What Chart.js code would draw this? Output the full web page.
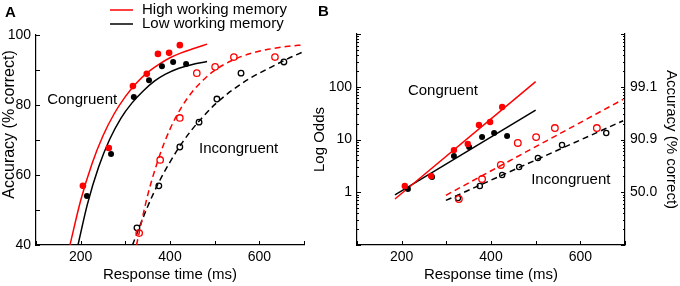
<!DOCTYPE html>
<html>
<head>
<meta charset="utf-8">
<script src="https://cdn.jsdelivr.net/npm/chart.js@4.4.1/dist/chart.umd.min.js"></script>
<style>
  html, body { margin: 0; padding: 0; background: #fff; }
  #wrap { position: relative; width: 680px; height: 286px; overflow: hidden; }
  #wrapA { position: absolute; left: 0; top: 0; width: 340px; height: 286px; }
  #wrapB { position: absolute; left: 300px; top: 0; width: 380px; height: 286px; }
  canvas { display: block; }
</style>
</head>
<body>
<div id="wrap">
  <div id="wrapA"><canvas id="chartA" width="340" height="286"></canvas></div>
  <div id="wrapB"><canvas id="chartB" width="380" height="286"></canvas></div>
</div>
<script>
// ---------------- DATA ----------------
// Series names
const seriesHigh = 'High working memory';
const seriesLow = 'Low working memory';
const conditionLabels = ['Congruent', 'Incongruent'];

// Panel A: accuracy (% correct) vs response time (ms) – observed points
const aCongHighRT  = [205, 263, 317, 348, 373, 398, 422];
const aCongHighAcc = [56.9, 67.7, 85.4, 88.9, 94.6, 94.9, 97.1];
const aCongLowRT   = [214, 268, 319, 353, 382, 407, 436];
const aCongLowAcc  = [54.0, 66.0, 82.3, 87.1, 91.1, 92.3, 91.7];
const aIncHighRT   = [331, 378, 422, 460, 501, 543, 635];
const aIncHighAcc  = [43.4, 64.3, 76.3, 89.1, 90.9, 93.7, 93.7];
const aIncLowRT    = [326, 375, 422, 465, 505, 559, 655];
const aIncLowAcc   = [44.9, 56.9, 68.0, 75.1, 81.7, 89.1, 92.3];

// Panel A: fitted curves
const aFitCongHighRT  = [176, 200, 225, 250, 275, 300, 325, 350, 375, 400, 425, 455, 483];
const aFitCongHighAcc = [40, 52.7, 63.1, 71.2, 77.5, 82.4, 86.3, 89.3, 91.6, 93.5, 94.9, 96.2, 97.4];
const aFitCongLowRT   = [194, 215, 240, 265, 290, 315, 340, 365, 390, 420, 450, 483];
const aFitCongLowAcc  = [40, 51.6, 62.2, 70.2, 76.2, 80.6, 84.0, 86.8, 88.8, 90.5, 91.6, 92.4];
const aFitIncHighRT   = [325, 350, 375, 400, 425, 450, 475, 500, 540, 580, 620, 660, 700];
const aFitIncHighAcc  = [40, 54.2, 64.9, 73.1, 79.2, 83.8, 87.2, 89.9, 92.8, 94.7, 95.9, 96.7, 97.2];
const aFitIncLowRT    = [316, 350, 375, 400, 425, 450, 475, 500, 540, 580, 620, 660, 700];
const aFitIncLowAcc   = [40, 51.0, 57.9, 63.7, 68.8, 73.1, 76.8, 80.1, 84.3, 87.7, 90.4, 93.0, 95.3];

// Panel B: log odds vs response time (ms) – observed points
const bCongHighRT   = [207, 266, 317, 348, 373, 398, 425];
const bCongHighOdds = [1.31, 2.03, 6.3, 8.2, 18.8, 21.5, 41.3];
const bCongLowRT    = [214, 268, 317, 351, 380, 407, 436];
const bCongLowOdds  = [1.15, 1.95, 4.87, 7.2, 11.1, 13.3, 11.6];
const bIncHighRT    = [328, 380, 422, 460, 501, 543, 637];
const bIncHighOdds  = [0.745, 1.78, 3.29, 8.6, 11.1, 16.5, 16.5];
const bIncLowRT     = [326, 375, 425, 463, 505, 559, 658];
const bIncLowOdds   = [0.78, 1.31, 2.12, 3.01, 4.46, 7.87, 13.3];

// Panel B: fitted lines (end points)
const bFitCongHighRT   = [185, 500];
const bFitCongHighOdds = [0.745, 125];
const bFitCongLowRT    = [185, 500];
const bFitCongLowOdds  = [0.89, 36.2];
const bFitIncHighRT    = [299, 696];
const bFitIncHighOdds  = [0.875, 57.8];
const bFitIncLowRT     = [299, 696];
const bFitIncLowOdds   = [0.70, 22.7];

// Tick labels
const xTickLabels = [200, 400, 600];
const aYTickLabels = [40, 60, 80, 100];
const bLeftTickValues = [1, 10, 100];
const bLeftTickLabels = ['1', '10', '100'];
const bRightTickLabels = ['50.0', '90.9', '99.1'];

// ---------------- HELPERS ----------------
const RED = '#ff0000';
const BLACK = '#000000';
const FONT = '"Liberation Sans", Arial, Helvetica, sans-serif';
const zip = (xs, ys) => xs.map((x, i) => ({ x, y: ys[i] }));

function pointsDS(label, xs, ys, color, open, r) {
  return {
    label, data: zip(xs, ys), showLine: false,
    pointRadius: r, pointHoverRadius: r,
    pointBackgroundColor: open ? 'rgba(255,255,255,0)' : color,
    pointBorderColor: color, pointBorderWidth: open ? 1.3 : 0,
    backgroundColor: color, borderColor: color
  };
}
function lineDS(label, xs, ys, color, dashed, smooth) {
  return {
    label, data: zip(xs, ys), showLine: true, pointRadius: 0, pointHoverRadius: 0,
    borderColor: color, backgroundColor: color, borderWidth: 1.5,
    borderDash: dashed ? [6, 4] : [], tension: smooth ? 0.4 : 0,
    cubicInterpolationMode: smooth ? 'monotone' : 'default', fill: false
  };
}

// inward tick marks, drawn through the chart's own scales
const inwardTicks = {
  id: 'inwardTicks',
  afterDatasetsDraw(chart) {
    const ctx = chart.ctx;
    ctx.save();
    ctx.strokeStyle = '#000';
    ctx.lineWidth = 1;
    Object.values(chart.scales).forEach(scale => {
      const isLog = scale.type === 'logarithmic';
      scale.ticks.forEach(t => {
        const major = !isLog || Math.abs(Math.log10(t.value) - Math.round(Math.log10(t.value))) < 1e-9;
        const len = major ? 4 : 2;
        const p = Math.round(scale.getPixelForValue(t.value)) + 0.5;
        ctx.beginPath();
        if (scale.axis === 'x') {
          ctx.moveTo(p, scale.top); ctx.lineTo(p, scale.top - len);
        } else if (scale.position === 'left') {
          ctx.moveTo(scale.right, p); ctx.lineTo(scale.right + len, p);
        } else {
          ctx.moveTo(scale.left, p); ctx.lineTo(scale.left - len, p);
        }
        ctx.stroke();
      });
    });
    ctx.restore();
  }
};

// text decorations: panel letter, in-plot labels, legend
const decor = {
  id: 'decor',
  afterDraw(chart, args, opts) {
    const ctx = chart.ctx;
    ctx.save();
    ctx.fillStyle = '#000';
    ctx.textBaseline = 'middle';
    ctx.textAlign = 'left';
    if (opts.letter) {
      ctx.font = 'bold 15px ' + FONT;
      ctx.fillText(opts.letter.text, opts.letter.x, opts.letter.y);
    }
    ctx.font = '15px ' + FONT;
    (opts.notes || []).forEach(n => {
      const x = chart.scales.x.getPixelForValue(n.x);
      const y = chart.scales.y.getPixelForValue(n.y);
      ctx.fillText(n.text, x, y);
    });
    if (opts.legend) {
      const L = opts.legend;
      L.items.forEach((it, i) => {
        const y = L.y + i * L.rowGap;
        ctx.strokeStyle = it.color;
        ctx.lineWidth = 1.5;
        ctx.beginPath();
        ctx.moveTo(L.x, y); ctx.lineTo(L.x + L.lineLen, y);
        ctx.stroke();
        ctx.fillStyle = '#000';
        ctx.fillText(it.text, L.x + L.lineLen + L.gap, y);
      });
    }
    ctx.restore();
  }
};

const tickFont = { family: FONT, size: 14 };

// ---------------- PANEL A ----------------
new Chart(document.getElementById('chartA'), {
  type: 'scatter',
  data: {
    datasets: [
      pointsDS(seriesHigh + ' congruent', aCongHighRT, aCongHighAcc, RED, false, 3.3),
      pointsDS(seriesLow + ' congruent', aCongLowRT, aCongLowAcc, BLACK, false, 3),
      pointsDS(seriesHigh + ' incongruent', aIncHighRT, aIncHighAcc, RED, true, 3.2),
      pointsDS(seriesLow + ' incongruent', aIncLowRT, aIncLowAcc, BLACK, true, 2.8),
      lineDS(seriesHigh + ' congruent fit', aFitCongHighRT, aFitCongHighAcc, RED, false, true),
      lineDS(seriesLow + ' congruent fit', aFitCongLowRT, aFitCongLowAcc, BLACK, false, true),
      lineDS(seriesHigh + ' incongruent fit', aFitIncHighRT, aFitIncHighAcc, RED, true, true),
      lineDS(seriesLow + ' incongruent fit', aFitIncLowRT, aFitIncLowAcc, BLACK, true, true)
    ]
  },
  options: {
    responsive: false, animation: false, devicePixelRatio: 1,
    layout: { padding: { top: 35, right: 36, bottom: 0, left: 0 } },
    plugins: {
      legend: { display: false }, tooltip: { enabled: false },
      decor: {
        letter: { text: 'A', x: 5, y: 13 },
        notes: [
          { text: conditionLabels[0], x: 125, y: 81.4 },
          { text: conditionLabels[1], x: 465, y: 67.4 }
        ],
        legend: {
          x: 110, y: 10, rowGap: 14, lineLen: 23, gap: 9,
          items: [{ text: seriesHigh, color: RED }, { text: seriesLow, color: BLACK }]
        }
      }
    },
    scales: {
      x: {
        type: 'linear', position: 'bottom', min: 100, max: 700,
        grid: { display: false, drawTicks: false },
        border: { display: true, color: '#000', width: 1.2 },
        ticks: {
          stepSize: 100, autoSkip: false, maxRotation: 0, padding: 4, color: '#000', font: tickFont,
          callback: v => xTickLabels.includes(v) ? String(v) : ''
        },
        title: { display: true, text: 'Response time (ms)', color: '#000',
                 font: { family: FONT, size: 15 }, padding: { top: 0, bottom: 2 } },
        afterFit: s => { s.height = 41; }
      },
      y: {
        type: 'linear', position: 'left', min: 40, max: 100,
        grid: { display: false, drawTicks: false },
        border: { display: true, color: '#000', width: 1.2 },
        ticks: {
          stepSize: 10, autoSkip: false, padding: 5, color: '#000', font: tickFont,
          callback: v => aYTickLabels.includes(v) ? String(v) : ''
        },
        title: { display: true, text: '       Accuracy (% correct)', color: '#000',
                 font: { family: FONT, size: 16 }, padding: { top: 0, bottom: 0 } },
        afterFit: s => { s.width = 36; }
      }
    }
  },
  plugins: [inwardTicks, decor]
});

// ---------------- PANEL B ----------------
function logTicks(scale) {
  const vals = [];
  for (let e = -1; e <= 2; e++) {
    for (let m = 1; m <= 9; m++) vals.push(m * Math.pow(10, e));
  }
  vals.push(1000);
  scale.ticks = vals.map(v => ({ value: v }));
}
function labelFor(values, labels) {
  return v => {
    const i = values.findIndex(t => Math.abs(t - v) < 1e-9 * Math.max(1, t));
    return i >= 0 ? labels[i] : '';
  };
}

new Chart(document.getElementById('chartB'), {
  type: 'scatter',
  data: {
    datasets: [
      pointsDS(seriesHigh + ' congruent', bCongHighRT, bCongHighOdds, RED, false, 3.2),
      pointsDS(seriesLow + ' congruent', bCongLowRT, bCongLowOdds, BLACK, false, 3),
      pointsDS(seriesHigh + ' incongruent', bIncHighRT, bIncHighOdds, RED, true, 3.3),
      pointsDS(seriesLow + ' incongruent', bIncLowRT, bIncLowOdds, BLACK, true, 2.6),
      lineDS(seriesHigh + ' congruent fit', bFitCongHighRT, bFitCongHighOdds, RED, false, false),
      lineDS(seriesLow + ' congruent fit', bFitCongLowRT, bFitCongLowOdds, BLACK, false, false),
      lineDS(seriesHigh + ' incongruent fit', bFitIncHighRT, bFitIncHighOdds, RED, true, false),
      lineDS(seriesLow + ' incongruent fit', bFitIncLowRT, bFitIncLowOdds, BLACK, true, false)
    ]
  },
  options: {
    responsive: false, animation: false, devicePixelRatio: 1,
    layout: { padding: { top: 34, right: 0, bottom: 0, left: 0 } },
    plugins: {
      legend: { display: false }, tooltip: { enabled: false },
      decor: {
        letter: { text: 'B', x: 18, y: 12 },
        notes: [
          { text: conditionLabels[0], x: 214, y: 83 },
          { text: conditionLabels[1], x: 490, y: 1.71 }
        ]
      }
    },
    scales: {
      x: {
        type: 'linear', position: 'bottom', min: 100, max: 700,
        grid: { display: false, drawTicks: false },
        border: { display: true, color: '#000', width: 1.2 },
        ticks: {
          stepSize: 100, autoSkip: false, maxRotation: 0, padding: 4, color: '#000', font: tickFont,
          callback: v => xTickLabels.includes(v) ? String(v) : ''
        },
        title: { display: true, text: 'Response time (ms)', color: '#000',
                 font: { family: FONT, size: 15 }, padding: { top: 0, bottom: 2 } },
        afterFit: s => { s.height = 41; }
      },
      y: {
        type: 'logarithmic', position: 'left', min: 0.1, max: 1000,
        grid: { display: false, drawTicks: false },
        border: { display: true, color: '#000', width: 1.2 },
        afterBuildTicks: logTicks,
        ticks: { autoSkip: false, padding: 5, color: '#000', font: tickFont,
                 callback: labelFor(bLeftTickValues, bLeftTickLabels) },
        title: { display: true, text: 'Log Odds', color: '#000',
                 font: { family: FONT, size: 15 }, padding: { top: 11, bottom: 0 } },
        afterFit: s => { s.width = 57; }
      },
      y2: {
        type: 'logarithmic', position: 'right', min: 0.1, max: 1000,
        grid: { display: false, drawTicks: false },
        border: { display: true, color: '#000', width: 1.2 },
        afterBuildTicks: logTicks,
        ticks: { autoSkip: false, padding: 5, color: '#000', font: tickFont,
                 callback: labelFor(bLeftTickValues, bRightTickLabels) },
        title: { display: true, text: 'Accuracy (% correct)', color: '#000',
                 font: { family: FONT, size: 15 }, padding: { top: 0, bottom: 0 } },
        afterFit: s => { s.width = 55; }
      }
    }
  },
  plugins: [inwardTicks, decor]
});
</script>
</body>
</html>
